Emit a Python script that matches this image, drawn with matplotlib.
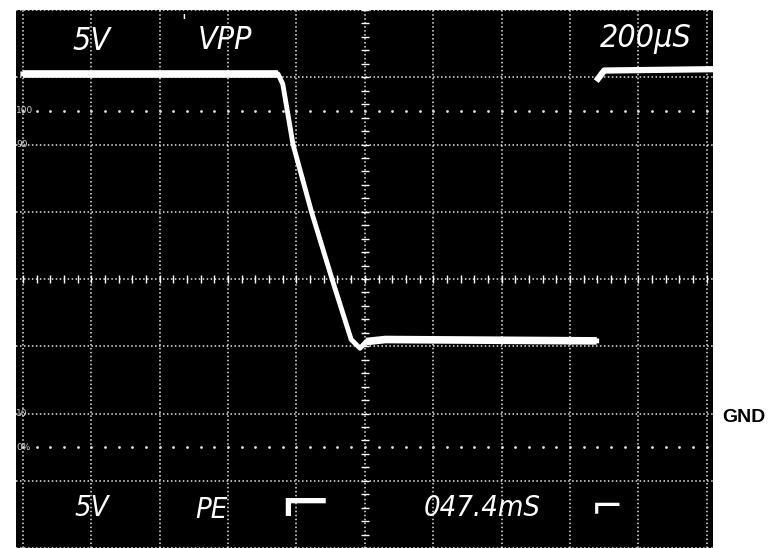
"""Oscilloscope capture: VPP falling edge, 5 V/div, 200 us/div."""

import matplotlib.pyplot as plt
import numpy as np

# screen is 10 x 8 divisions
trace_x = [0.0, 3.73, 3.80, 3.95, 4.22, 4.52, 4.80, 4.93, 5.02, 5.30, 8.39]
trace_y = [7.05, 7.05, 6.90, 6.00, 5.00, 4.00, 3.10, 2.97, 3.07, 3.10, 3.08]
next_x = [8.41, 8.50, 10.1]
next_y = [6.98, 7.10, 7.12]

top_labels = ["5V", "VPP", "200µS"]
bottom_labels = ["5V", "PE", "047.4mS"]
level_labels = ["100", "90", "10", "0%"]
level_values = [6.5, 6.0, 2.0, 1.5]

W, H = 769, 548
SCOPE = ["Liberation Sans Narrow", "DejaVu Sans"]


def main():
    fig = plt.figure(figsize=(W / 100, H / 100), dpi=100)
    fig.patch.set_facecolor("white")
    ax = fig.add_axes([16 / W, 0, 697 / W, 538 / H])
    ax.set_facecolor("black")
    ax.set_xlim(-0.10, 10.09)
    ax.set_ylim(0.077, 8.0)

    ax.set_xticks(np.arange(0, 11))
    ax.set_yticks(np.arange(0, 9))
    ax.tick_params(length=0, labelbottom=False, labelleft=False)
    ax.grid(color="white", linestyle=(0, (1, 1.6)), linewidth=1.1, alpha=0.9)
    for s in ax.spines.values():
        s.set_visible(False)

    # minor ticks on the centre lines
    fine = np.arange(0, 10.01, 0.2)
    ax.plot(fine, np.full_like(fine, 4.0), "|", color="white", ms=6, mew=1)
    fine_v = np.arange(0, 8.01, 0.2)
    ax.plot(np.full_like(fine_v, 5.0), fine_v, "_", color="white", ms=6, mew=1)

    # 0% / 100% dotted rise-time lines
    for lv in (1.5, 6.5):
        ax.plot(fine, np.full_like(fine, lv), ".", color="#dddddd", ms=2)

    for lab, lv in zip(level_labels, level_values):
        ax.text(-0.1, lv, lab, color="#cccccc", fontsize=6.5, ha="left",
                va="center", family=SCOPE)

    # falling edge thinner, flat levels thicker
    ax.plot(trace_x, trace_y, color="white", lw=3.5, solid_joinstyle="round")
    ax.plot(trace_x[:2], trace_y[:2], color="white", lw=5.5, solid_capstyle="butt")
    ax.plot(trace_x[-3:], trace_y[-3:], color="white", lw=5.5,
            solid_capstyle="butt", solid_joinstyle="round")
    ax.plot(next_x, next_y, color="white", lw=4.5, solid_joinstyle="round")

    # on-screen readouts
    kw = dict(color="white", ha="center", va="center", style="italic",
              stretch="condensed", family=SCOPE)
    top_pos = [(1.0, 7.53), (2.95, 7.55), (9.1, 7.58)]
    for lab, (x, y) in zip(top_labels, top_pos):
        ax.text(x, y, lab, fontsize=23, **kw)
    ax.text(2.35, 7.82, "'", fontsize=14, **kw)

    bot_pos = [(1.0, 0.6), (2.75, 0.56), (6.72, 0.6)]
    for lab, (x, y) in zip(bottom_labels, bot_pos):
        ax.text(x, y, lab, fontsize=21, **kw)
    ax.text(4.12, 0.62, "⌐", fontsize=46, color="white", ha="center",
            va="center", family="DejaVu Sans")
    ax.text(8.55, 0.6, "⌐", fontsize=28, color="white", ha="center",
            va="center", family="DejaVu Sans")

    fig.text(744 / W, 1 - 418 / H, "GND", fontsize=14, fontweight="bold",
             ha="center", va="center", family=["Liberation Sans", "DejaVu Sans"])

    fig.savefig("out.png", dpi=100, facecolor="white")
    plt.close(fig)


if __name__ == "__main__":
    main()
